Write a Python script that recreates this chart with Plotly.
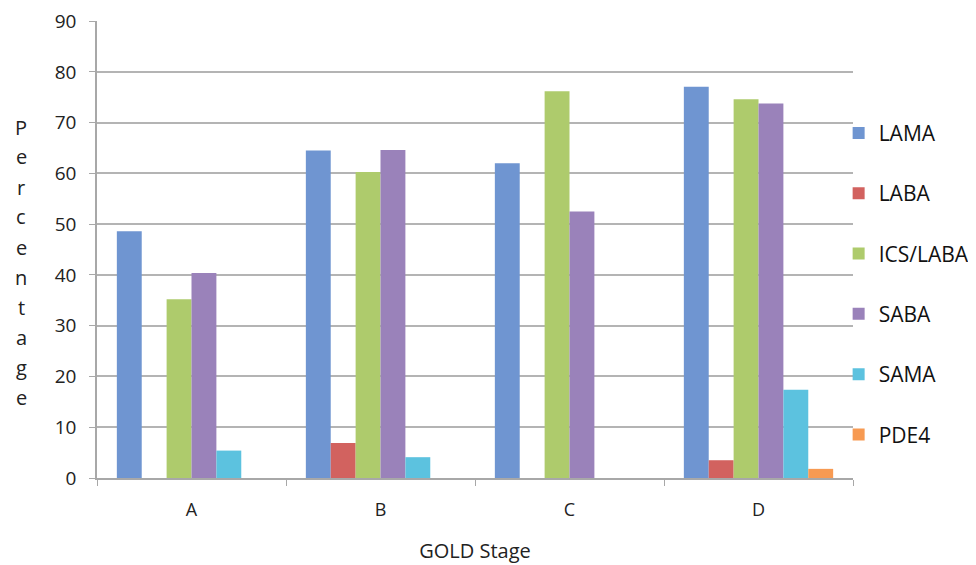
import plotly.graph_objects as go

categories = ["A", "B", "C", "D"]
series_names = ["LAMA", "LABA", "ICS/LABA", "SABA", "SAMA", "PDE4"]
lama = [48.6, 64.5, 62.0, 77.1]
laba = [0, 6.9, 0, 3.5]
ics_laba = [35.2, 60.3, 76.2, 74.6]
saba = [40.4, 64.6, 52.5, 73.8]
sama = [5.4, 4.1, 0, 17.4]
pde4 = [0, 0, 0, 1.8]
series_values = [lama, laba, ics_laba, saba, sama, pde4]
colors = ["#6f95d1", "#d2625f", "#aecb6c", "#9a82ba", "#5cc2df", "#f79a52"]
y_title = "Percentage"
x_title = "GOLD Stage"

FONT = "Open Sans"

fig = go.Figure()
for i, (name, vals, col) in enumerate(zip(series_names, series_values, colors)):
    fig.add_trace(go.Bar(
        x=categories, y=vals, name=name, marker=dict(color=col, line=dict(width=0)),
        legendgroup=name,
    ))

fig.update_layout(
    width=976, height=565,
    margin=dict(l=89, r=131, t=13, b=95, autoexpand=False),
    paper_bgcolor="white", plot_bgcolor="white",
    barmode="group", bargap=0.21, bargroupgap=0,
    font=dict(family=FONT, size=18, color="#222"),
    showlegend=True,
    legend=dict(
        x=0.981, xanchor="left", y=0.425, yanchor="middle",
        font=dict(family=FONT, size=21, color="#111"),
        tracegroupgap=30, traceorder="grouped",
        itemwidth=30, bgcolor="rgba(0,0,0,0)",
    ),
    xaxis=dict(
        showline=True, linecolor="#a8a8a8", linewidth=1.5,
        ticks="outside", tickson="boundaries", ticklen=6, tickcolor="#a8a8a8",
        tickfont=dict(size=18, family=FONT, color="#222"),
        ticklabelstandoff=15,
        title=dict(text=x_title, font=dict(size=20, family=FONT, color="#222"), standoff=24),
    ),
    yaxis=dict(
        range=[0, 90.03], tickmode="array", tickvals=[0, 10, 20, 30, 40, 50, 60, 70, 80, 90],
        showgrid=True, gridcolor="#b4b4b4", gridwidth=1.6,
        showline=True, linecolor="#a8a8a8", linewidth=1.5,
        ticks="outside", ticklen=6, tickcolor="#a8a8a8",
        tickfont=dict(size=19, family=FONT, color="#222"),
        ticklabelstandoff=9, ticklabeloverflow="allow",
        zeroline=False,
    ),
)

# vertical stacked y-axis title
top_px, step_px = 119, 30
plot_top, plot_h = 13, 565 - 13 - 95
for k, ch in enumerate(y_title):
    ypx = top_px + k * step_px
    fig.add_annotation(
        text=ch, xref="paper", yref="paper",
        x=-0.1, y=1 - (ypx - plot_top) / plot_h,
        xanchor="center", yanchor="middle", showarrow=False,
        font=dict(size=20, family=FONT, color="#222"),
    )

fig.write_html("out.html")
